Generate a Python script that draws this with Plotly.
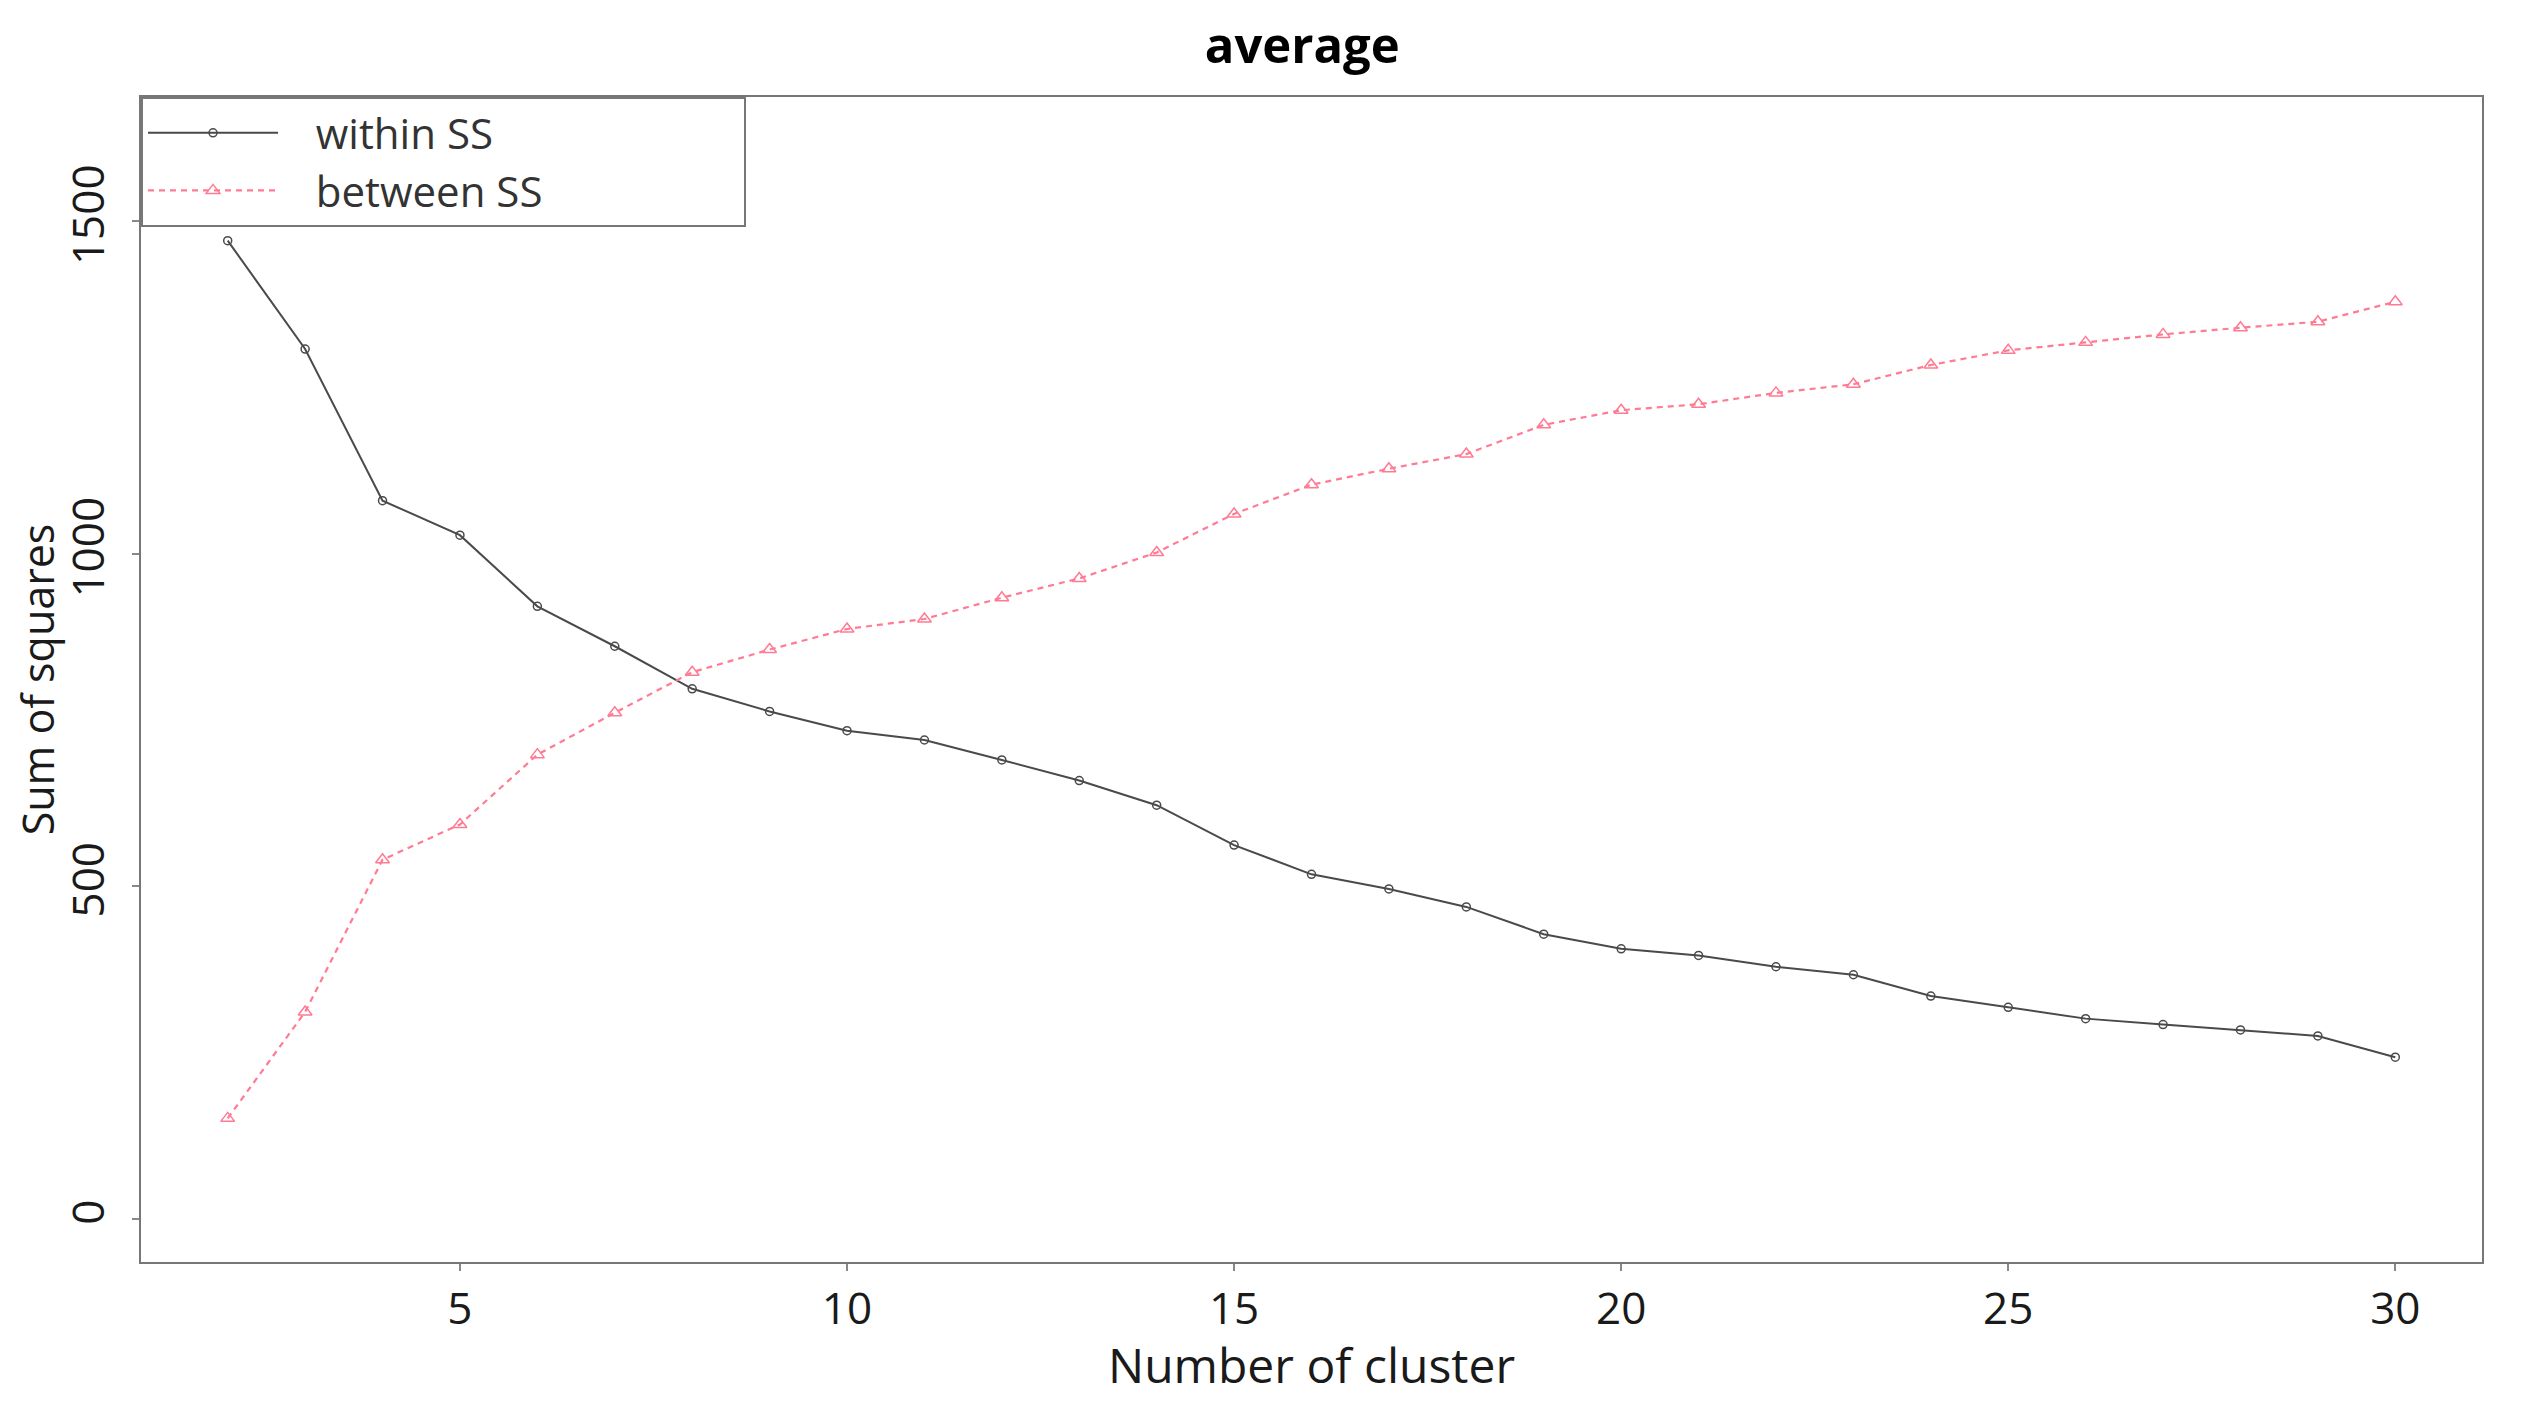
import plotly.graph_objects as go

clusters = list(range(2, 31))
within_ss = [1471, 1308, 1080, 1028, 921, 861, 797, 763, 734, 720, 690, 659, 622, 562,
             518, 496, 469, 428, 406, 396, 379, 367, 335, 318, 301, 292, 284, 275, 243]
between_ss = [151, 311, 540, 593, 698, 761, 822, 856, 887, 902, 934, 963, 1002, 1060,
              1104, 1128, 1150, 1194, 1216, 1225, 1242, 1255, 1284, 1306, 1318, 1330, 1340, 1349, 1379]
x_ticks = [5, 10, 15, 20, 25, 30]
y_ticks = [0, 500, 1000, 1500]
series_names = ["within SS", "between SS"]

FONT = "Open Sans"
NB = "\u00a0"

def legend_label(name):
    return NB * 3 + name + NB * 18

fig = go.Figure()
fig.add_trace(go.Scatter(
    x=clusters, y=within_ss, name=legend_label(series_names[0]), mode="lines+markers",
    line=dict(color="#4a4a4a", width=2),
    marker=dict(symbol="circle-open", size=8, color="#4a4a4a", line=dict(width=1.5)),
))
fig.add_trace(go.Scatter(
    x=clusters, y=between_ss, name=legend_label(series_names[1]), mode="lines+markers",
    line=dict(color="#ff7b93", width=2.2, dash="6px,5px"),
    marker=dict(symbol="triangle-up-open", size=12, color="#ff7b93", line=dict(width=1.5)),
))

fig.update_layout(
    width=2518, height=1389,
    margin=dict(l=133, r=44, t=89, b=135, autoexpand=False),
    paper_bgcolor="white", plot_bgcolor="white",
    font=dict(family=FONT, size=42, color="#1a1a1a"),
    title=dict(text="<b>average</b>", x=0.514, xanchor="center", y=0.973, yanchor="middle",
               font=dict(family=FONT, size=49, color="black")),
    legend=dict(x=0, y=1, xanchor="left", yanchor="top",
                bordercolor="#777777", borderwidth=2, bgcolor="white",
                font=dict(family=FONT, size=42, color="#333333"),
                itemwidth=130, tracegroupgap=0),
    showlegend=True,
)
fig.update_xaxes(
    range=[0.88, 31.12], tickvals=x_ticks, ticks="outside", ticklen=7, tickwidth=2,
    tickcolor="#888888", showline=True, linecolor="#777777", linewidth=2, mirror=True,
    showgrid=False, zeroline=False, automargin=False,
    tickfont=dict(family=FONT, size=44, color="#1a1a1a"),
    title=dict(text="Number of cluster", standoff=8, font=dict(family=FONT, size=48, color="#1a1a1a")),
)
fig.update_yaxes(
    range=[-65, 1687], tickvals=y_ticks, ticks="outside", ticklen=7, tickwidth=2,
    tickcolor="#888888", showline=True, linecolor="#777777", linewidth=2, mirror=True,
    showgrid=False, zeroline=False, tickangle=-90, automargin=False, ticklabelstandoff=10,
    tickfont=dict(family=FONT, size=44, color="#1a1a1a"),
    title=dict(text="Sum of squares", standoff=3, font=dict(family=FONT, size=43, color="#1a1a1a")),
)

fig.write_html("out.html")
